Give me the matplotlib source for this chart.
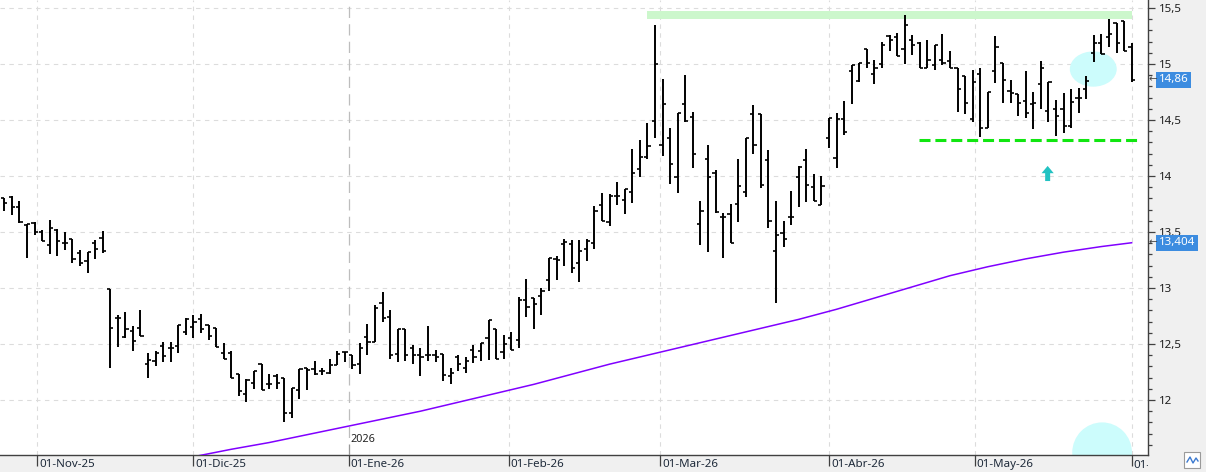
import numpy as np
import pandas as pd
import matplotlib
matplotlib.use("Agg")
import matplotlib.pyplot as plt
from matplotlib.patches import Ellipse, Rectangle, Polygon
from matplotlib.transforms import blended_transform_factory
import matplotlib.ticker as mticker

plt.rcParams['font.family'] = ['Noto Sans', 'DejaVu Sans']

# ---------------- data ----------------
start_date = "2025-10-27"
end_date = "2026-06-01"
holidays = ["2025-12-25", "2025-12-26", "2026-01-01", "2026-04-03", "2026-04-06", "2026-05-01"]

opens = [13.80, 13.81, 13.72, 13.56, 13.58, 13.50, 13.38, 13.52, 13.40, 13.44,
         13.31, 13.24, 13.40, 13.45, 12.99, 12.73, 12.56, 12.62, 12.64, 12.32,
         12.35, 12.48, 12.46, 12.48, 12.61, 12.65, 12.72, 12.67, 12.64, 12.42,
         12.42, 12.23, 12.05, 12.15, 12.32, 12.14, 12.21, 12.20, 11.88, 12.09,
         12.29, 12.28, 12.26, 12.24, 12.31, 12.43, 12.40, 12.32, 12.56, 12.52,
         12.87, 12.74, 12.41, 12.63, 12.46, 12.40, 12.40, 12.40, 12.41, 12.21,
         12.38, 12.29, 12.45, 12.44, 12.55, 12.63, 12.43, 12.55, 12.54, 12.89,
         12.91, 12.93, 13.07, 13.26, 13.39, 13.39, 13.22, 13.35, 13.40, 13.74,
         13.59, 13.82, 13.79, 13.86, 14.06, 14.17, 14.49, 14.28, 14.34, 13.99,
         14.64, 14.53, 13.57, 14.15, 14.03, 13.63, 13.66, 13.75, 13.86, 14.55,
         14.55, 14.14, 13.33, 13.49, 13.63, 13.99, 14.14, 13.90, 13.74, 14.34,
         14.16, 14.51, 14.94, 14.85, 15.13, 14.91, 15.00, 15.25, 15.24, 15.13,
         15.21, 15.19, 14.96, 14.99, 15.04, 15.03, 14.96, 14.89, 14.51, 14.91,
         14.43, 14.94, 15.01, 14.76, 14.73, 14.67, 14.64, 14.82, 14.58, 14.60,
         14.60, 14.45, 14.70, 14.78, 15.10, 15.19, 15.24, 15.37, 15.38, 15.15]
highs = [13.80, 13.82, 13.78, 13.57, 13.59, 13.52, 13.61, 13.53, 13.50, 13.44,
         13.34, 13.32, 13.43, 13.51, 12.99, 12.76, 12.79, 12.66, 12.80, 12.42,
         12.44, 12.52, 12.52, 12.67, 12.73, 12.76, 12.77, 12.67, 12.64, 12.51,
         12.44, 12.23, 12.19, 12.26, 12.32, 12.23, 12.23, 12.20, 12.11, 12.28,
         12.29, 12.35, 12.29, 12.37, 12.44, 12.43, 12.40, 12.51, 12.68, 12.85,
         12.96, 12.80, 12.63, 12.63, 12.49, 12.46, 12.66, 12.45, 12.41, 12.29,
         12.40, 12.38, 12.49, 12.51, 12.71, 12.63, 12.58, 12.61, 12.92, 13.08,
         12.91, 13.00, 13.27, 13.29, 13.44, 13.43, 13.43, 13.44, 13.73, 13.85,
         13.84, 13.95, 13.88, 14.24, 14.32, 14.47, 15.35, 14.87, 14.43, 14.56,
         14.90, 14.57, 13.78, 14.28, 14.05, 13.67, 13.75, 14.15, 14.34, 14.63,
         14.55, 14.23, 13.78, 13.60, 13.87, 14.09, 14.24, 14.02, 14.00, 14.52,
         14.56, 14.67, 14.99, 15.01, 15.13, 15.04, 15.20, 15.26, 15.28, 15.44,
         15.26, 15.20, 15.21, 15.17, 15.27, 15.12, 14.96, 14.89, 14.95, 14.96,
         14.75, 15.25, 15.01, 14.86, 14.73, 14.94, 14.75, 15.03, 14.84, 14.68,
         14.74, 14.78, 14.79, 14.89, 15.26, 15.27, 15.40, 15.37, 15.38, 15.19]
lows = [13.69, 13.65, 13.58, 13.27, 13.47, 13.42, 13.30, 13.29, 13.34, 13.22,
        13.20, 13.13, 13.26, 13.31, 12.29, 12.47, 12.55, 12.44, 12.57, 12.20,
        12.30, 12.34, 12.34, 12.42, 12.58, 12.55, 12.60, 12.54, 12.47, 12.37,
        12.20, 12.04, 11.98, 12.10, 12.09, 12.10, 12.10, 11.80, 11.84, 12.01,
        12.09, 12.22, 12.22, 12.23, 12.31, 12.34, 12.28, 12.23, 12.40, 12.52,
        12.70, 12.37, 12.34, 12.35, 12.32, 12.21, 12.35, 12.34, 12.17, 12.14,
        12.26, 12.24, 12.33, 12.35, 12.36, 12.37, 12.37, 12.45, 12.46, 12.74,
        12.63, 12.76, 12.97, 13.07, 13.20, 13.13, 13.05, 13.24, 13.35, 13.60,
        13.55, 13.74, 13.66, 13.76, 13.99, 14.15, 14.34, 14.18, 13.93, 13.85,
        14.48, 14.07, 13.38, 13.32, 13.67, 13.27, 13.40, 13.59, 13.81, 14.20,
        13.89, 13.54, 12.87, 13.37, 13.56, 13.72, 13.77, 13.78, 13.74, 14.25,
        14.07, 14.37, 14.64, 14.84, 14.96, 14.82, 14.96, 15.12, 15.07, 15.00,
        15.08, 14.96, 14.96, 14.95, 14.99, 14.96, 14.57, 14.55, 14.48, 14.35,
        14.43, 14.83, 14.65, 14.65, 14.54, 14.52, 14.42, 14.60, 14.48, 14.36,
        14.38, 14.43, 14.56, 14.69, 15.02, 15.09, 15.15, 15.10, 15.12, 14.84]
closes = [13.76, 13.72, 13.59, 13.57, 13.50, 13.42, 13.54, 13.42, 13.40, 13.26,
          13.22, 13.32, 13.35, 13.33, 12.64, 12.73, 12.63, 12.53, 12.57, 12.36,
          12.42, 12.39, 12.46, 12.67, 12.72, 12.70, 12.63, 12.57, 12.47, 12.37,
          12.20, 12.08, 12.18, 12.26, 12.09, 12.14, 12.15, 11.88, 12.11, 12.28,
          12.27, 12.23, 12.26, 12.31, 12.41, 12.43, 12.31, 12.46, 12.52, 12.82,
          12.73, 12.40, 12.63, 12.40, 12.40, 12.38, 12.40, 12.38, 12.22, 12.24,
          12.32, 12.35, 12.38, 12.51, 12.71, 12.37, 12.50, 12.45, 12.89, 12.83,
          12.86, 12.97, 13.27, 13.25, 13.41, 13.18, 13.33, 13.42, 13.69, 13.60,
          13.82, 13.82, 13.88, 14.03, 14.17, 14.27, 15.00, 14.64, 14.11, 14.56,
          14.49, 14.20, 13.69, 13.99, 13.68, 13.63, 13.40, 13.91, 14.34, 14.28,
          13.92, 13.60, 13.47, 13.44, 13.63, 14.08, 13.92, 13.78, 13.91, 14.52,
          14.51, 14.39, 14.99, 15.01, 15.01, 14.96, 15.17, 15.21, 15.07, 15.35,
          15.17, 14.96, 15.04, 15.17, 15.01, 14.96, 14.78, 14.65, 14.84, 14.43,
          14.75, 15.15, 14.86, 14.74, 14.65, 14.56, 14.65, 14.96, 14.84, 14.54,
          14.45, 14.66, 14.70, 14.85, 15.19, 15.09, 15.27, 15.19, 15.12, 14.86]

# moving average (read at selected bars)
ma_idx = [24, 30, 35, 40, 45, 50, 55, 60, 65, 70, 75, 80, 85, 90, 95, 100,
          105, 110, 115, 120, 125, 130, 135, 140, 145, 149]
ma_vals = [11.48, 11.56, 11.62, 11.69, 11.76, 11.83, 11.90, 11.98, 12.06, 12.14,
           12.23, 12.32, 12.40, 12.48, 12.56, 12.64, 12.72, 12.81, 12.91, 13.01,
           13.11, 13.19, 13.26, 13.32, 13.37, 13.404]

month_labels = ["01-Nov-25", "01-Dic-25", "01-Ene-26", "01-Feb-26", "01-Mar-26",
                "01-Abr-26", "01-May-26", "01-Jun-26"]
price_ticks = [12.0, 12.5, 13.0, 13.5, 14.0, 14.5, 15.0, 15.5]
last_price = 14.86
ma_last = 13.404
resistance = 15.44
support = 14.32

# ---------------- layout ----------------
W, H, DPI = 1206, 472, 100
fig = plt.figure(figsize=(W / DPI, H / DPI), dpi=DPI, facecolor="#f0f0f0")
plot_right = 1148
plot_bottom = 455
ax = fig.add_axes([0, (H - plot_bottom) / H, plot_right / W, plot_bottom / H])
ax.set_facecolor("white")

dates = pd.bdate_range(start_date, end_date, freq="C", holidays=holidays)
n = len(opens)
x = np.arange(n)

step = 7.566
x0 = 4.3
ax.set_xlim(-x0 / step, (plot_right - x0) / step)
ppu = 112.0
ax.set_ylim(15.5 - (plot_bottom - 8) / ppu, 15.5 + 8 / ppu)

# month positions (trading-day scale)
ms = pd.date_range("2025-11-01", "2026-06-01", freq="MS")
mpos = np.interp(ms.values.astype("int64"), dates.values.astype("int64"), x)

# grid
for p in price_ticks:
    ax.axhline(p, color="#dcdcdc", lw=0.8, ls=(0, (4, 4)), zorder=0)
for d, p in zip(ms, mpos):
    if d.month == 1:
        ax.axvline(p, color="#bdbdbd", lw=0.9, ls=(0, (9, 5)), zorder=0)
    else:
        ax.axvline(p, color="#dcdcdc", lw=0.8, ls=(0, (4, 4)), zorder=0)

# annotations behind bars
ax.add_patch(Ellipse((143.93, 14.955), 6.2, 0.315, color="#ccfcfc", lw=0, zorder=1))
ax.add_patch(Ellipse((145.1, 11.53), 7.9, 0.54, color="#ccfcfc", lw=0, zorder=1))
ax.add_patch(Rectangle((84.95, 15.402), 149.05 - 84.95, 0.071, color="#ccf7cc", lw=0, zorder=1))
ax.plot([120.9, 149.8], [support, support], color="#11e611", lw=2.2,
        ls=(0, (3.6, 1.6)), solid_capstyle="butt", dash_capstyle="butt", zorder=2)
cx, tip, base, hw, sw, hl = 137.9, 14.09, 13.955, 0.8, 0.33, 0.065
ax.add_patch(Polygon([(cx, tip), (cx + hw, tip - hl), (cx + sw, tip - hl), (cx + sw, base),
                      (cx - sw, base), (cx - sw, tip - hl), (cx - hw, tip - hl)],
                     closed=True, color="#22c2c2", lw=0, zorder=2))

# moving average
ax.plot(ma_idx, ma_vals, color="#8000ff", lw=1.1, zorder=3)

# OHLC bars
tw = 0.42
ax.vlines(x, lows, highs, color="black", lw=1.4, zorder=4, capstyle="butt")
ax.hlines(opens, x - tw, x, color="black", lw=1.2, zorder=4)
ax.hlines(closes, x, x + tw, color="black", lw=1.2, zorder=4)

# 2026 marker
jan = mpos[2]
ax.plot([jan, jan], [11.509, 11.60], color="#999999", lw=0.8, zorder=3)
ax.text(jan + 0.25, 11.645, "2026", fontsize=7.8, color="#222222", va="center", ha="left")

# axes styling
for s in ["left", "top"]:
    ax.spines[s].set_visible(False)
for s in ["right", "bottom"]:
    ax.spines[s].set_color("#404040")
    ax.spines[s].set_linewidth(1.0)
ax.yaxis.tick_right()
ax.yaxis.set_major_locator(mticker.FixedLocator(price_ticks))
ax.yaxis.set_minor_locator(mticker.MultipleLocator(0.1))
ax.yaxis.set_major_formatter(mticker.FuncFormatter(lambda v, _: f"{v:g}".replace(".", ",")))
ax.tick_params(axis="y", which="major", length=5, width=0.9, color="#404040",
               labelsize=8.3, labelcolor="#1e1e1e", pad=3)
ax.tick_params(axis="y", which="minor", length=3, width=0.9, color="#404040")
ax.set_xticks([])

# right-side price labels
bt = blended_transform_factory(fig.transFigure, ax.transData)
for val in [last_price, ma_last]:
    ax.text(1159 / W, val, f"{val:g}".replace(".", ","), transform=bt, ha="left", va="center",
            fontsize=8.3, color="white", clip_on=False,
            bbox=dict(boxstyle="square,pad=0.22", fc="#3c8ce0", ec="none"))
    ax.text(1152.5 / W, val, "\u2190", transform=bt, ha="center", va="center",
            fontsize=7.5, color="#444444", family="DejaVu Sans", clip_on=False)

# bottom date band
axb = fig.add_axes([0, 0, plot_right / W, (H - plot_bottom) / H])
axb.set_xlim(ax.get_xlim())
axb.set_ylim(0, 1)
axb.axis("off")
axb.vlines(mpos, 0.35, 1.0, color="#404040", lw=0.9)
for p, lab in zip(mpos, month_labels):
    axb.text(p + 0.25, 0.45, lab, fontsize=8.3, color="#1e2a3a", ha="left", va="center",
             clip_on=True)

# small icon bottom-right
fig.patches.append(Rectangle((1184 / W, 4 / H), 16 / W, 16 / H, transform=fig.transFigure,
                             fc="white", ec="#9a9a9a", lw=0.8))
fig.lines.append(plt.Line2D([1187 / W, 1190 / W, 1193 / W, 1196 / W, 1198 / W],
                            [10 / H, 15 / H, 9 / H, 14 / H, 11 / H],
                            transform=fig.transFigure, color="#3c7ad0", lw=1.0))

fig.savefig("out.png", dpi=DPI, facecolor=fig.get_facecolor())
